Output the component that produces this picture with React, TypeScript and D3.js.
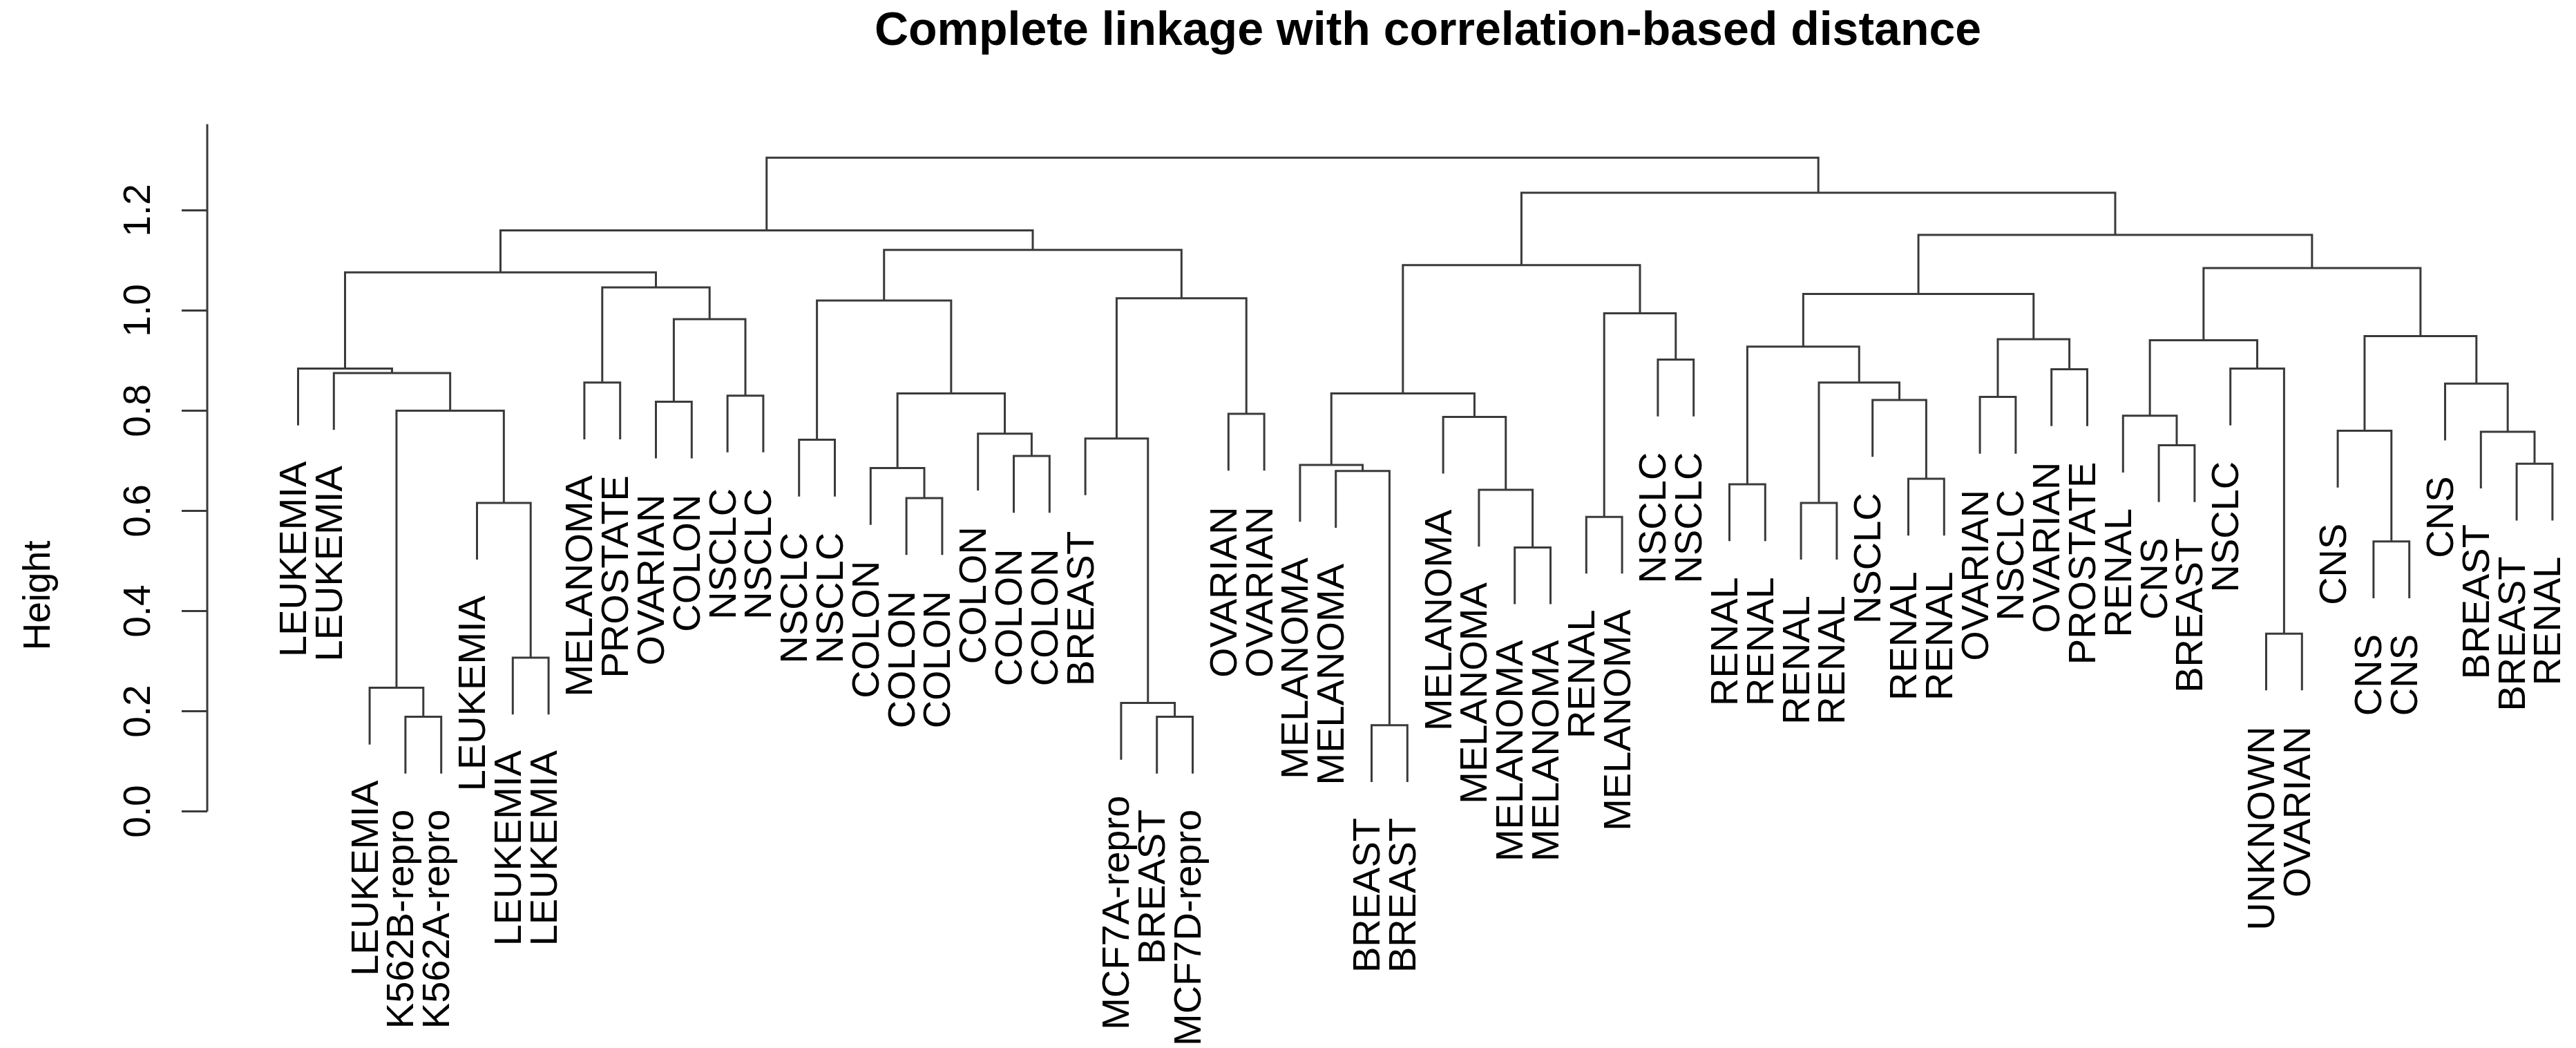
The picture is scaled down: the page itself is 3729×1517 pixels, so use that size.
import React from 'react';
import * as d3 from 'd3';

// leaves in plotted order
const leafLabels = [
  'LEUKEMIA', 'LEUKEMIA', 'LEUKEMIA', 'K562B-repro', 'K562A-repro', 'LEUKEMIA', 'LEUKEMIA', 'LEUKEMIA',
  'MELANOMA', 'PROSTATE', 'OVARIAN', 'COLON', 'NSCLC', 'NSCLC', 'NSCLC', 'NSCLC',
  'COLON', 'COLON', 'COLON', 'COLON', 'COLON', 'COLON', 'BREAST', 'MCF7A-repro',
  'BREAST', 'MCF7D-repro', 'OVARIAN', 'OVARIAN', 'MELANOMA', 'MELANOMA', 'BREAST', 'BREAST',
  'MELANOMA', 'MELANOMA', 'MELANOMA', 'MELANOMA', 'RENAL', 'MELANOMA', 'NSCLC', 'NSCLC',
  'RENAL', 'RENAL', 'RENAL', 'RENAL', 'NSCLC', 'RENAL', 'RENAL', 'OVARIAN',
  'NSCLC', 'OVARIAN', 'PROSTATE', 'RENAL', 'CNS', 'BREAST', 'NSCLC', 'UNKNOWN',
  'OVARIAN', 'CNS', 'CNS', 'CNS', 'CNS', 'BREAST', 'BREAST', 'RENAL',
];

// hclust style merges: negative = leaf (1-based position), positive = earlier merge row
const merges: [number, number][] = [
  [-4, -5], [-3, 1], [-7, -8], [-6, 3], [2, 4], [-2, 5], [-1, 6],
  [-9, -10], [-11, -12], [-13, -14], [9, 10], [8, 11], [7, 12],
  [-15, -16], [-18, -19], [-17, 15], [-21, -22], [-20, 17], [16, 18], [14, 19],
  [-25, -26], [-24, 21], [-23, 22], [-27, -28], [23, 24], [20, 25], [13, 26],
  [-31, -32], [-30, 28], [-29, 29], [-35, -36], [-34, 31], [-33, 32], [30, 33],
  [-37, -38], [-39, -40], [35, 36], [34, 37],
  [-41, -42], [-43, -44], [-46, -47], [-45, 41], [40, 42], [39, 43],
  [-48, -49], [-50, -51], [45, 46], [44, 47],
  [-53, -54], [-52, 49], [-56, -57], [-55, 51], [50, 52],
  [-59, -60], [-58, 54], [-63, -64], [-62, 56], [-61, 57], [55, 58], [53, 59],
  [48, 60], [38, 61], [27, 62],
];

const mergeHeights = [
  0.189, 0.247, 0.307, 0.616, 0.800, 0.875, 0.884,
  0.856, 0.818, 0.830, 0.9825, 1.046, 1.076,
  0.742, 0.6255, 0.6855, 0.7096, 0.754, 0.8345, 1.020,
  0.189, 0.2166, 0.7445, 0.7937, 1.0245, 1.121, 1.160,
  0.172, 0.6795, 0.6917, 0.527, 0.642, 0.7876, 0.8345,
  0.588, 0.902, 0.9945, 1.0907,
  0.653, 0.616, 0.664, 0.8213, 0.856, 0.928,
  0.8274, 0.8827, 0.9428, 1.033,
  0.731, 0.790, 0.355, 0.884, 0.9405,
  0.539, 0.760, 0.694, 0.758, 0.854, 0.9488, 1.0847,
  1.151, 1.235, 1.305,
];

const yTicks = [0, 0.2, 0.4, 0.6, 0.8, 1.0, 1.2];
const title = 'Complete linkage with correlation-based distance';
const yLabel = 'Height';

const W = 3729;
const H = 1517;
const font = '"Liberation Sans", Arial, Helvetica, sans-serif';

export default function App() {
  const x = d3.scaleLinear().domain([1, leafLabels.length]).range([431.5, 3694.9]);
  const y = d3.scaleLinear().domain([0, 1.2]).range([1174.6, 304.4]);

  const hang = 0.1 * ((d3.max(mergeHeights) as number) - (d3.min(mergeHeights) as number));

  // node positions in leaf units
  const nodeX: number[] = [];
  const leafBottom: number[] = new Array(leafLabels.length).fill(0);
  const paths: string[] = [];

  merges.forEach(([a, b], i) => {
    const h = mergeHeights[i];
    const pos = (c: number) => {
      if (c < 0) {
        leafBottom[-c - 1] = h - hang;
        return { cx: -c, ch: h - hang };
      }
      return { cx: nodeX[c - 1], ch: mergeHeights[c - 1] };
    };
    const p1 = pos(a);
    const p2 = pos(b);
    nodeX[i] = (p1.cx + p2.cx) / 2;
    paths.push(
      `M${x(p1.cx)},${y(p1.ch)}V${y(h)}H${x(p2.cx)}V${y(p2.ch)}`
    );
  });

  const axisTop = y(1.372);

  return (
    <div style={{ position: 'absolute', left: 0, top: 0 }}>
      <svg width={W} height={H} style={{ display: 'block', background: '#fff' }}>
        <text
          x={2067}
          y={65}
          textAnchor="middle"
          fontFamily={font}
          fontWeight="bold"
          fontSize={68}
          fill="#000"
        >
          {title}
        </text>

        {/* y axis */}
        <g stroke="#3a3a3a" strokeWidth={3}>
          <line x1={300} x2={300} y1={y(0)} y2={axisTop} />
          {yTicks.map(t => (
            <line key={t} x1={263} x2={300} y1={y(t)} y2={y(t)} />
          ))}
        </g>
        {yTicks.map(t => (
          <text
            key={t}
            transform={`translate(217,${y(t)}) rotate(-90)`}
            textAnchor="middle"
            fontFamily={font}
            fontSize={55}
            fill="#000"
          >
            {d3.format('.1f')(t)}
          </text>
        ))}
        <text
          transform={`translate(72,862) rotate(-90)`}
          textAnchor="middle"
          fontFamily={font}
          fontSize={55}
          fill="#000"
        >
          {yLabel}
        </text>

        {/* dendrogram */}
        <g fill="none" stroke="#3a3a3a" strokeWidth={3}>
          {paths.map((d, i) => (
            <path key={i} d={d} />
          ))}
        </g>

        {leafLabels.map((lab, i) => (
          <text
            key={i}
            transform={`translate(${x(i + 1) + 11.5},${y(leafBottom[i]) + 52}) rotate(-90)`}
            textAnchor="end"
            fontFamily={font}
            fontSize={56}
            fill="#000"
          >
            {lab}
          </text>
        ))}
      </svg>
    </div>
  );
}
